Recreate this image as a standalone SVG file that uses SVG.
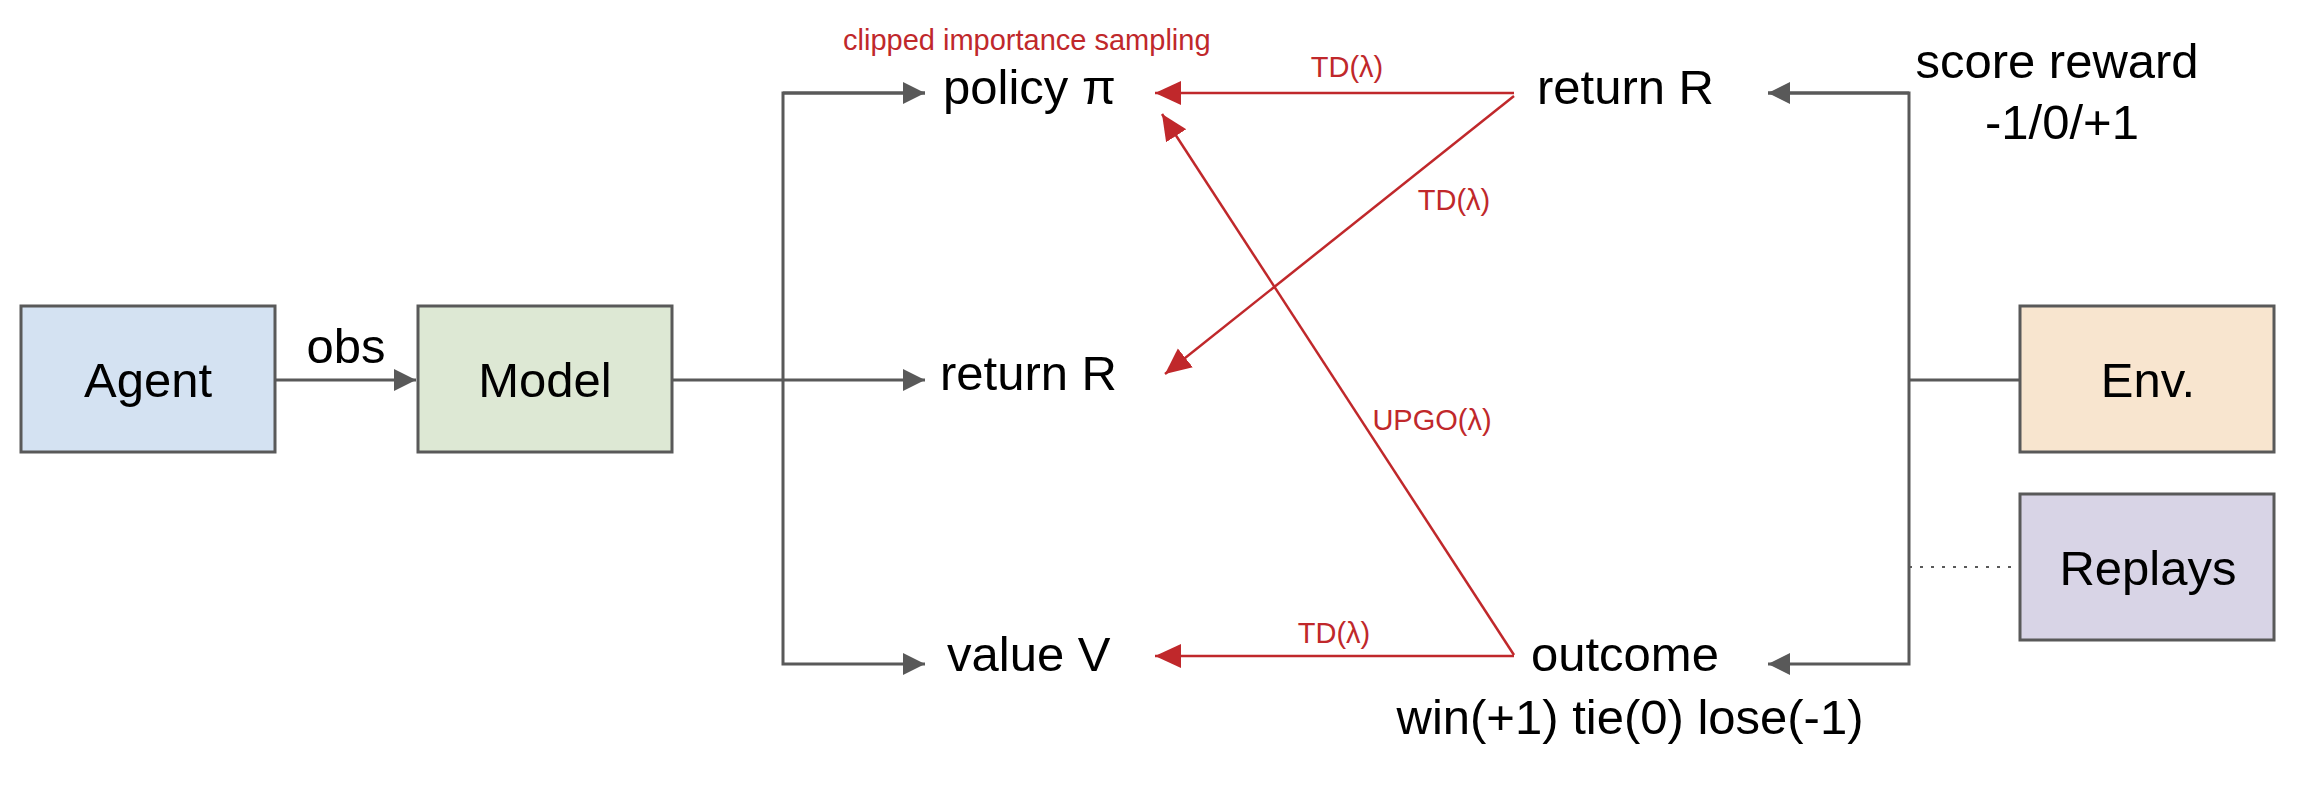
<svg xmlns="http://www.w3.org/2000/svg" width="2318" height="794" viewBox="0 0 2318 794">
<style>
text{font-family:"Liberation Sans",Arial,sans-serif;fill:#000}
.big{font-size:49px}
.red{font-size:29px;fill:#c0282b}
.box{stroke:#595959;stroke-width:3}
.g{stroke:#595959;stroke-width:3;fill:none}
.r{stroke:#c0282b;stroke-width:2.5;fill:none}
</style>
<defs>
<marker id="ag" markerUnits="userSpaceOnUse" markerWidth="24" markerHeight="24" refX="22" refY="12" orient="auto"><path d="M0,1 L22,12 L0,23 Z" fill="#595959"/></marker>
<marker id="ar" markerUnits="userSpaceOnUse" markerWidth="28" markerHeight="26" refX="26" refY="13" orient="auto"><path d="M0,1 L26,13 L0,25 Z" fill="#c0282b"/></marker>
</defs>
<g id="connectors">
<line class="g" x1="275" y1="380" x2="416" y2="380" marker-end="url(#ag)"/>
<line class="g" x1="672" y1="380" x2="925" y2="380" marker-end="url(#ag)"/>
<polyline class="g" points="925,93 783,93 783,664 925,664" marker-end="url(#ag)"/>
<line class="g" x1="783" y1="93" x2="925" y2="93" marker-end="url(#ag)"/>
<polyline class="g" points="1768,93 1909,93 1909,664 1768,664" marker-end="url(#ag)"/>
<line class="g" x1="1909" y1="93" x2="1768" y2="93" marker-end="url(#ag)"/>
<line class="g" x1="1909" y1="380" x2="2020" y2="380"/>
<line x1="1909" y1="567" x2="2020" y2="567" stroke="#595959" stroke-width="2" stroke-dasharray="3,8"/>
<line class="r" x1="1514" y1="93" x2="1155" y2="93" marker-end="url(#ar)"/>
<line class="r" x1="1514" y1="96" x2="1165" y2="374" marker-end="url(#ar)"/>
<line class="r" x1="1514" y1="655" x2="1162" y2="114" marker-end="url(#ar)"/>
<line class="r" x1="1514" y1="656" x2="1155" y2="656" marker-end="url(#ar)"/>
<text class="big" x="346" y="363" text-anchor="middle">obs</text>
<text class="red" x="843" y="50">clipped importance sampling</text>
<text class="red" x="1347" y="77" text-anchor="middle">TD(λ)</text>
<text class="red" x="1454" y="210" text-anchor="middle">TD(λ)</text>
<text class="red" x="1432" y="430" text-anchor="middle">UPGO(λ)</text>
<text class="red" x="1334" y="643" text-anchor="middle">TD(λ)</text>
</g>
<g id="agent"><rect class="box" x="21" y="306" width="254" height="146" fill="#d4e2f2"/><text class="big" x="148" y="397" text-anchor="middle">Agent</text></g>
<g id="model"><rect class="box" x="418" y="306" width="254" height="146" fill="#dde8d4"/><text class="big" x="545" y="397" text-anchor="middle">Model</text></g>
<g id="env"><rect class="box" x="2020" y="306" width="254" height="146" fill="#f8e5cf"/><text class="big" x="2148" y="397" text-anchor="middle">Env.</text></g>
<g id="replays"><rect class="box" x="2020" y="494" width="254" height="146" fill="#d8d4e6"/><text class="big" x="2148" y="585" text-anchor="middle">Replays</text></g>
<g id="policy"><text class="big" x="943" y="104">policy π</text></g>
<g id="returnL"><text class="big" x="940" y="390">return R</text></g>
<g id="value"><text class="big" x="947" y="671">value V</text></g>
<g id="returnR"><text class="big" x="1537" y="104">return R</text></g>
<g id="outcome"><text class="big" x="1531" y="671">outcome</text><text class="big" x="1630" y="734" text-anchor="middle">win(+1) tie(0) lose(-1)</text></g>
<g id="score"><text class="big" x="2057" y="78" text-anchor="middle">score reward</text><text class="big" x="2062" y="139" text-anchor="middle">-1/0/+1</text></g>
</svg>
